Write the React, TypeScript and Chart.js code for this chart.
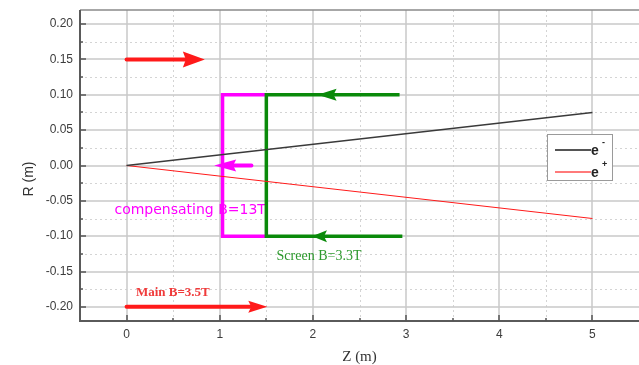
import React, { useEffect, useRef } from 'react';
import { Chart, registerables } from 'chart.js';

Chart.register(...registerables);

// ---------- data ----------
const Z_TICKS = [0, 1, 2, 3, 4, 5];
const Z_MINOR = [0.5, 1.5, 2.5, 3.5, 4.5];
const R_TICKS = [-0.2, -0.15, -0.1, -0.05, 0, 0.05, 0.1, 0.15, 0.2];
const R_MINOR = [-0.175, -0.125, -0.075, -0.025, 0.025, 0.075, 0.125, 0.175];

const ELECTRON_Z = [0, 5];
const ELECTRON_R = [0, 0.075];
const POSITRON_Z = [0, 5];
const POSITRON_R = [0, -0.075];

const COMP_COIL_Z = [1.5, 1.03, 1.03, 1.5];
const COMP_COIL_R = [0.1, 0.1, -0.1, -0.1];
const SCREEN_COIL_Z = [2.93, 1.5, 1.5, 2.96];
const SCREEN_COIL_R = [0.1, 0.1, -0.1, -0.1];

// arrows: [tail, tip]
const BEAM_ARROW_Z = [0, 0.84];
const BEAM_ARROW_R = [0.15, 0.15];
const MAIN_ARROW_Z = [0, 1.51];
const MAIN_ARROW_R = [-0.2, -0.2];
const COMP_ARROW_Z = [1.34, 0.94];
const COMP_ARROW_R = [0, 0];
const SCREEN_TOP_ARROW_Z = [2.6, 2.05];
const SCREEN_TOP_ARROW_R = [0.1, 0.1];
const SCREEN_BOT_ARROW_Z = [2.6, 1.99];
const SCREEN_BOT_ARROW_R = [-0.1, -0.1];

const LABEL_TEXTS = ['compensating B=13T', 'Screen B=3.3T', 'Main B=3.5T'];
const LABEL_Z = [-0.13, 1.61, 0.1];
const LABEL_R = [-0.064, -0.128, -0.18];

const LEGEND_NAMES = ['e', 'e'];
const LEGEND_SUPS = ['-', '+'];

// ---------- styles ----------
const BLACK_LINE = '#3a3a3a';
const RED = '#ff1a1a';
const MAGENTA = '#ff00ff';
const GREEN = '#0a8a0a';
const LABEL_COLORS = [MAGENTA, '#2e9a2e', '#f03a3a'];
const LABEL_FONTS = ['14px "DejaVu Sans"', '14px "Liberation Serif"', 'bold 13px "Liberation Serif"'];
const ARROW_COLORS = [RED, RED, MAGENTA, GREEN, GREEN];
const ARROW_HEAD = [22, 19, 22, 19, 15];
const ARROW_HALF = [8, 6, 6, 6, 6];
const ARROW_SHAFT = [4, 4, 4, 0, 0];

const toPts = (zs: number[], rs: number[]) => zs.map((z, i) => ({ x: z, y: rs[i] }));

const decorPlugin = {
  id: 'decor',
  beforeDatasetsDraw(chart: any) {
    const { ctx, chartArea: a, scales } = chart;
    const xs = scales.x, ys = scales.y;
    ctx.save();
    // minor dotted grid
    ctx.strokeStyle = '#d4d4d4';
    ctx.lineWidth = 1;
    ctx.setLineDash([2, 3]);
    Z_MINOR.forEach((v) => {
      const p = Math.round(xs.getPixelForValue(v)) + 0.5;
      ctx.beginPath(); ctx.moveTo(p, a.top); ctx.lineTo(p, a.bottom); ctx.stroke();
    });
    R_MINOR.forEach((v) => {
      const p = Math.round(ys.getPixelForValue(v)) + 0.5;
      ctx.beginPath(); ctx.moveTo(a.left, p); ctx.lineTo(a.right, p); ctx.stroke();
    });
    ctx.setLineDash([]);
    // major grid
    ctx.strokeStyle = '#c8c8c8';
    ctx.lineWidth = 1.5;
    Z_TICKS.forEach((v) => {
      const p = Math.round(xs.getPixelForValue(v));
      ctx.beginPath(); ctx.moveTo(p, a.top); ctx.lineTo(p, a.bottom); ctx.stroke();
    });
    R_TICKS.forEach((v) => {
      const p = Math.round(ys.getPixelForValue(v));
      ctx.beginPath(); ctx.moveTo(a.left, p); ctx.lineTo(a.right, p); ctx.stroke();
    });
    // annotation texts
    ctx.textBaseline = 'middle';
    ctx.textAlign = 'left';
    LABEL_TEXTS.forEach((t, i) => {
      ctx.font = LABEL_FONTS[i];
      ctx.fillStyle = LABEL_COLORS[i];
      ctx.fillText(t, xs.getPixelForValue(LABEL_Z[i]), ys.getPixelForValue(LABEL_R[i]));
    });
    ctx.restore();
  },
  afterDatasetsDraw(chart: any) {
    const { ctx, chartArea: a, scales } = chart;
    const xs = scales.x, ys = scales.y;
    ctx.save();
    // arrows
    const arrows = [
      [BEAM_ARROW_Z, BEAM_ARROW_R],
      [MAIN_ARROW_Z, MAIN_ARROW_R],
      [COMP_ARROW_Z, COMP_ARROW_R],
      [SCREEN_TOP_ARROW_Z, SCREEN_TOP_ARROW_R],
      [SCREEN_BOT_ARROW_Z, SCREEN_BOT_ARROW_R],
    ];
    arrows.forEach(([zs, rs], i) => {
      const x0 = xs.getPixelForValue(zs[0]), y0 = ys.getPixelForValue(rs[0]);
      const x1 = xs.getPixelForValue(zs[1]), y1 = ys.getPixelForValue(rs[1]);
      const len = Math.hypot(x1 - x0, y1 - y0);
      const ux = (x1 - x0) / len, uy = (y1 - y0) / len;
      const h = ARROW_HEAD[i], w = ARROW_HALF[i];
      const bx = x1 - ux * h, by = y1 - uy * h;
      ctx.strokeStyle = ARROW_COLORS[i];
      ctx.fillStyle = ARROW_COLORS[i];
      if (ARROW_SHAFT[i] > 0) {
        ctx.lineWidth = ARROW_SHAFT[i];
        ctx.lineCap = 'round';
        ctx.beginPath(); ctx.moveTo(x0, y0); ctx.lineTo(bx + ux * 2, by + uy * 2); ctx.stroke();
      }
      ctx.beginPath();
      ctx.moveTo(x1, y1);
      ctx.lineTo(bx - uy * w, by + ux * w);
      ctx.lineTo(bx + ux * 3, by + uy * 3);
      ctx.lineTo(bx + uy * w, by - ux * w);
      ctx.closePath();
      ctx.fill();
    });

    // spines
    ctx.lineCap = 'butt';
    ctx.strokeStyle = '#8a8a8a';
    ctx.lineWidth = 1.5;
    ctx.beginPath(); ctx.moveTo(a.left, a.top); ctx.lineTo(a.right, a.top); ctx.stroke();
    ctx.strokeStyle = '#5a5a5a';
    ctx.lineWidth = 2;
    ctx.beginPath(); ctx.moveTo(a.left, a.top); ctx.lineTo(a.left, a.bottom); ctx.lineTo(a.right, a.bottom); ctx.stroke();

    // ticks (inward)
    ctx.lineWidth = 1.5;
    ctx.strokeStyle = '#555';
    Z_TICKS.forEach((v) => {
      const p = Math.round(xs.getPixelForValue(v));
      ctx.beginPath(); ctx.moveTo(p, a.bottom); ctx.lineTo(p, a.bottom - 6); ctx.stroke();
    });
    Z_MINOR.forEach((v) => {
      const p = Math.round(xs.getPixelForValue(v));
      ctx.beginPath(); ctx.moveTo(p, a.bottom); ctx.lineTo(p, a.bottom - 3); ctx.stroke();
    });
    R_TICKS.forEach((v) => {
      const p = Math.round(ys.getPixelForValue(v));
      ctx.beginPath(); ctx.moveTo(a.left, p); ctx.lineTo(a.left + 6, p); ctx.stroke();
    });
    R_MINOR.forEach((v) => {
      const p = Math.round(ys.getPixelForValue(v));
      ctx.beginPath(); ctx.moveTo(a.left, p); ctx.lineTo(a.left + 3, p); ctx.stroke();
    });

    // axis titles
    ctx.fillStyle = '#333';
    ctx.textAlign = 'center';
    ctx.textBaseline = 'middle';
    ctx.font = '15px "Liberation Serif"';
    ctx.fillText('Z (m)', (a.left + a.right) / 2, 357);
    ctx.save();
    ctx.translate(29, 179);
    ctx.rotate(-Math.PI / 2);
    ctx.font = '14px "Liberation Sans"';
    ctx.fillText('R (m)', 0, 0);
    ctx.restore();

    // legend
    const lx = 547, ly = 134, lw = 65, lh = 46;
    ctx.fillStyle = '#fff';
    ctx.fillRect(lx, ly, lw, lh);
    ctx.strokeStyle = '#9a9a9a';
    ctx.lineWidth = 1;
    ctx.strokeRect(lx + 0.5, ly + 0.5, lw, lh);
    const legColors = ['#555', '#ff7a7a'];
    LEGEND_NAMES.forEach((n, i) => {
      const yy = ly + 16 + i * 22;
      ctx.strokeStyle = legColors[i];
      ctx.lineWidth = 2;
      ctx.beginPath(); ctx.moveTo(lx + 8, yy); ctx.lineTo(lx + 44, yy); ctx.stroke();
      ctx.fillStyle = '#222';
      ctx.textAlign = 'left';
      ctx.textBaseline = 'middle';
      ctx.font = 'bold 14px "Liberation Sans"';
      ctx.fillText(n, lx + 44, yy + 1);
      ctx.font = 'bold 9px "Liberation Sans"';
      ctx.fillText(LEGEND_SUPS[i], lx + 55, yy - 7);
    });
    ctx.restore();
  },
};

export default function App() {
  const ref = useRef<HTMLCanvasElement | null>(null);
  useEffect(() => {
    if (!ref.current) return;
    const chart = new Chart(ref.current, {
      type: 'scatter',
      data: {
        datasets: [
          { label: 'e-', data: toPts(ELECTRON_Z, ELECTRON_R), showLine: true, borderColor: BLACK_LINE, borderWidth: 1.3, pointRadius: 0 },
          { label: 'e+', data: toPts(POSITRON_Z, POSITRON_R), showLine: true, borderColor: RED, borderWidth: 1, pointRadius: 0 },
          { label: 'screen', data: toPts(SCREEN_COIL_Z, SCREEN_COIL_R), showLine: true, borderColor: GREEN, borderWidth: 3.5, pointRadius: 0 },
          { label: 'comp', data: toPts(COMP_COIL_Z, COMP_COIL_R), showLine: true, borderColor: MAGENTA, borderWidth: 3.5, pointRadius: 0 },
        ],
      },
      options: {
        animation: false,
        responsive: false,
        devicePixelRatio: 1,
        layout: { padding: { top: 10, right: 0, left: 0, bottom: 0 } },
        plugins: { legend: { display: false }, tooltip: { enabled: false } },
        scales: {
          x: {
            type: 'linear',
            min: -0.5,
            max: 5.5,
            afterBuildTicks: (s: any) => { s.ticks = Z_TICKS.map((v) => ({ value: v })); },
            afterFit: (s: any) => { s.height = 44; s.paddingLeft = 0; s.paddingRight = 0; },
            grid: { display: false, drawTicks: false },
            border: { display: false },
            ticks: {
              padding: 6,
              autoSkip: false,
              maxRotation: 0,
              color: '#3c3c3c',
              font: { family: '"Liberation Sans"', size: 12 },
              callback: (v: any) => String(v),
            },
          },
          y: {
            type: 'linear',
            min: -0.22,
            max: 0.22,
            afterBuildTicks: (s: any) => { s.ticks = R_TICKS.map((v) => ({ value: v })); },
            afterFit: (s: any) => { s.width = 80; s.paddingTop = 0; s.paddingBottom = 0; },
            grid: { display: false, drawTicks: false },
            border: { display: false },
            ticks: {
              padding: 7,
              autoSkip: false,
              color: '#3c3c3c',
              font: { family: '"Liberation Sans"', size: 12 },
              callback: (v: any) => Number(v).toFixed(2),
            },
          },
        },
      },
      plugins: [decorPlugin],
    } as any);
    return () => chart.destroy();
  }, []);
  return (
    <div style={{ position: 'absolute', left: 0, top: 0, width: 639, height: 365, background: '#fff' }}>
      <canvas ref={ref} width={639} height={365} style={{ display: 'block' }} />
    </div>
  );
}
